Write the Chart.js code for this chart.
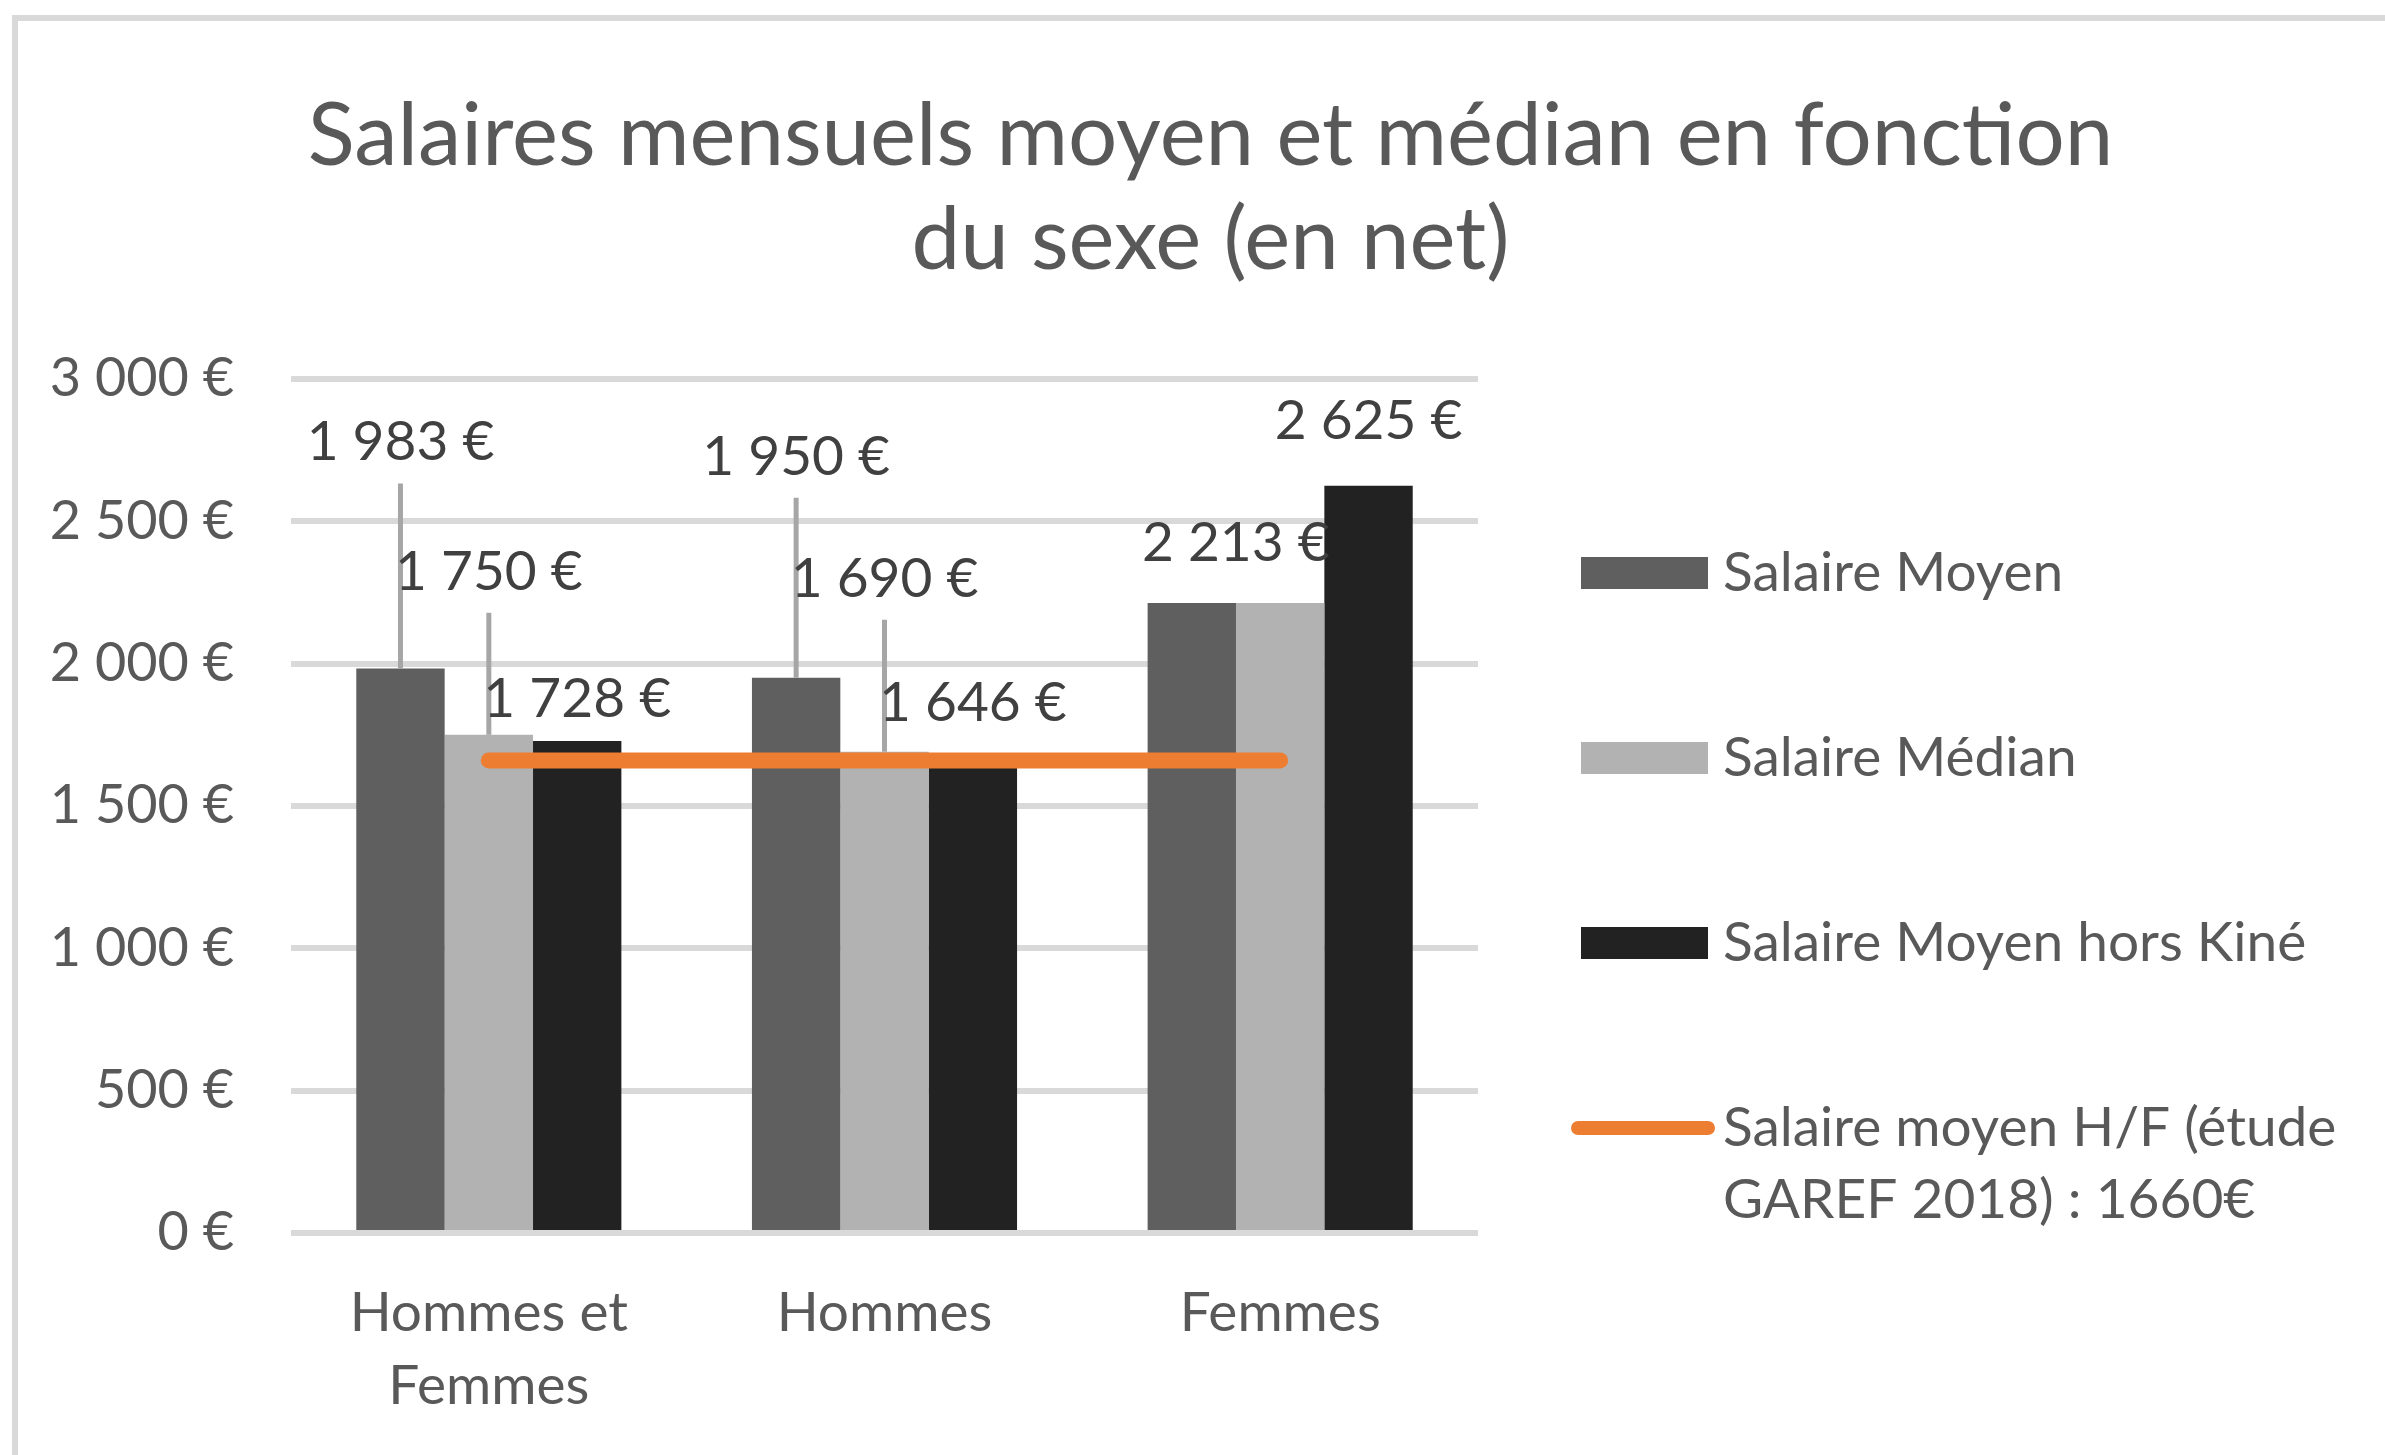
<!DOCTYPE html>
<html>
<head>
<meta charset="utf-8">
<script src="https://cdn.jsdelivr.net/npm/chart.js@4/dist/chart.umd.min.js"></script>
<style>
  html, body { margin: 0; padding: 0; background: #ffffff; }
  #c { display: block; }
</style>
</head>
<body>
<canvas id="c" width="2385" height="1455"></canvas>
<script>
// ---------- DATA ----------
const categories = [['Hommes et', 'Femmes'], 'Hommes', 'Femmes'];
const salaireMoyen = [1983, 1950, 2213];
const salaireMedian = [1750, 1690, 2213];
const salaireMoyenHorsKine = [1728, 1646, 2625];
const salaireMoyenGaref = [1660, 1660, 1660];
const seriesNames = ['Salaire Moyen', 'Salaire Médian', 'Salaire Moyen hors Kiné',
                     ['Salaire moyen H/F (étude', 'GAREF 2018) : 1660€']];
const titleLines = ['Salaires mensuels moyen et médian en fonction', 'du sexe (en net)'];
const yTickMin = 0, yTickMax = 3000, yTickStep = 500;

// ---------- STYLE ----------
const FONT = 'Lato';
const colors = ['#5f5f5f', '#b2b2b2', '#222222', '#ed7d31'];
const textGrey = '#595959';
const labelGrey = '#404040';

function fmtEuro(v) {
  return String(v).replace(/\B(?=(\d{3})+(?!\d))/g, ' ') + ' €';
}

// label placement (pixel offsets from bar top), per dataset / category
const labelLayout = [
  [{dy: -226, leader: true}, {dy: -221, leader: true}, {dy: -60, dx: 44}],
  [{dy: -163, leader: true}, {dy: -173, leader: true}, null],
  [{dy: -42}, {dy: -61}, {dy: -64}]
];

const bgPlugin = {
  id: 'bgBorder',
  beforeDraw(chart) {
    const ctx = chart.ctx;
    ctx.save();
    ctx.fillStyle = '#ffffff';
    ctx.fillRect(0, 0, chart.width, chart.height);
    ctx.strokeStyle = '#d9d9d9';
    ctx.lineWidth = 6;
    ctx.strokeRect(15, 18, chart.width + 40, chart.height + 40);
    ctx.restore();
  },
  afterLayout(chart) {
    if (chart.titleBlock) {
      chart.titleBlock.left = 36;
      chart.titleBlock.right = chart.width;
    }
  }
};

const dataLabelPlugin = {
  id: 'dataLabels',
  afterDatasetsDraw(chart) {
    const ctx = chart.ctx;
    ctx.save();
    ctx.font = '55px ' + FONT;
    ctx.textAlign = 'center';
    ctx.textBaseline = 'middle';
    for (let d = 0; d < 3; d++) {
      const meta = chart.getDatasetMeta(d);
      meta.data.forEach((bar, i) => {
        const lay = labelLayout[d][i];
        if (!lay) return;
        const x = bar.x + (lay.dx || 0);
        const y = bar.y + lay.dy;
        if (lay.leader) {
          ctx.strokeStyle = '#a6a6a6';
          ctx.lineWidth = 5;
          ctx.beginPath();
          ctx.moveTo(bar.x, y + 41);
          ctx.lineTo(bar.x, bar.y);
          ctx.stroke();
        }
        ctx.fillStyle = labelGrey;
        ctx.fillText(fmtEuro(chart.data.datasets[d].data[i]), x, y);
      });
    }
    ctx.restore();
  }
};

const legendPlugin = {
  id: 'sideLegend',
  afterDraw(chart) {
    const ctx = chart.ctx;
    const area = chart.chartArea;
    const x0 = area.right + 103;
    const textX = x0 + 142;
    const y0 = 573, step = 185;
    ctx.save();
    ctx.font = '55px ' + FONT;
    ctx.textAlign = 'left';
    ctx.textBaseline = 'middle';
    chart.data.datasets.forEach((ds, i) => {
      const cy = y0 + i * step;
      if (ds.type === 'line') {
        ctx.strokeStyle = ds.borderColor;
        ctx.lineWidth = 14;
        ctx.lineCap = 'round';
        ctx.beginPath();
        ctx.moveTo(x0 - 3, cy);
        ctx.lineTo(x0 + 127, cy);
        ctx.stroke();
      } else {
        ctx.fillStyle = ds.backgroundColor;
        ctx.fillRect(x0, cy - 16, 127, 32);
      }
      const lines = Array.isArray(seriesNames[i]) ? seriesNames[i] : [seriesNames[i]];
      ctx.fillStyle = textGrey;
      lines.forEach((t, k) => ctx.fillText(t, textX, cy + k * 72));
    });
    ctx.restore();
  }
};

new Chart(document.getElementById('c'), {
  type: 'bar',
  data: {
    labels: categories,
    datasets: [
      { label: seriesNames[0], data: salaireMoyen, backgroundColor: colors[0] },
      { label: seriesNames[1], data: salaireMedian, backgroundColor: colors[1] },
      { label: seriesNames[2], data: salaireMoyenHorsKine, backgroundColor: colors[2] },
      { type: 'line', label: seriesNames[3].join(' '), data: salaireMoyenGaref,
        borderColor: colors[3], backgroundColor: colors[3], borderWidth: 16,
        borderCapStyle: 'round', pointRadius: 0, fill: false, order: -1 }
    ]
  },
  options: {
    responsive: false,
    animation: false,
    devicePixelRatio: 1,
    datasets: { bar: { categoryPercentage: 0.67, barPercentage: 1.0 } },
    layout: { padding: { left: 0, top: 0, right: 907, bottom: 0 } },
    plugins: {
      legend: { display: false },
      tooltip: { enabled: false },
      title: {
        display: true,
        text: titleLines,
        color: textGrey,
        font: { family: FONT, size: 87, weight: 'normal', lineHeight: 1.195 },
        padding: { top: 85, bottom: 86 }
      }
    },
    scales: {
      x: {
        grid: { display: false, drawTicks: false },
        border: { display: false },
        ticks: { color: textGrey, font: { family: FONT, size: 55, lineHeight: 1.327 }, padding: 44, maxRotation: 0, autoSkip: false },
        afterFit(scale) { scale.height = 222; }
      },
      y: {
        min: yTickMin, max: yTickMax,
        grid: { color: '#d9d9d9', lineWidth: 6, drawTicks: false },
        border: { display: false },
        ticks: { stepSize: yTickStep, color: textGrey, font: { family: FONT, size: 54 }, padding: 57,
                 callback: (v) => fmtEuro(v) },
        afterFit(scale) { scale.width = 291; }
      }
    }
  },
  plugins: [bgPlugin, dataLabelPlugin, legendPlugin]
});
</script>
</body>
</html>
